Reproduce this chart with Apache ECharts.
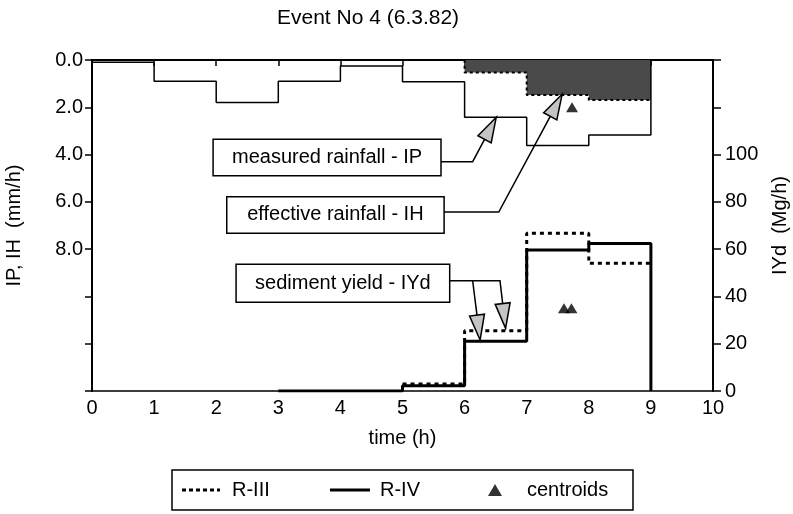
<!DOCTYPE html>
<html>
<head>
<meta charset="utf-8">
<script src="https://cdn.jsdelivr.net/npm/echarts@6/dist/echarts.min.js"></script>
<style>
html,body{margin:0;padding:0;background:#fff;}
#chart{width:793px;height:514px;}
</style>
</head>
<body>
<div id="chart"></div>
<script>
// ---- data ----
const titleText = 'Event No 4 (6.3.82)';
const xTicks = [0,1,2,3,4,5,6,7,8,9,10];
const leftTickLabels = ['0.0','2.0','4.0','6.0','8.0'];
const rightTickLabels = ['0','20','40','60','80','100'];

// measured rainfall IP (mm/h), hourly intervals starting at:
const ipStart = [0,1,2,3,4,5,6,7,8];
const ipValues = [0.1,0.9,1.8,0.9,0.25,0.92,2.42,3.62,3.17];
// effective rainfall IH (mm/h)
const ihStart = [3,4,5,6,7,8];
const ihValues = [0,0,0,0.53,1.48,1.69];
// sediment yield IYd (Mg/h)
const r4Start = [3,4,5,6,7,8];
const r4Values = [0,0,2.2,21,59.6,62.4];
const r3Start = [5,6,7,8];
const r3Values = [3,25.5,66.7,54];
// centroids
const centroidRain = [[7.73,2.0]];
const centroidSed = [[7.6,35],[7.72,35]];

// annotation anchors (data units: hours, mm/h)
const annBoxes = [
  {text:'measured rainfall - IP', x0:1.95, x1:5.62, y0:3.35, y1:4.90},
  {text:'effective rainfall - IH', x0:2.17, x1:5.67, y0:5.78, y1:7.33},
  {text:'sediment yield - IYd', x0:2.32, x1:5.76, y0:8.64, y1:10.25}
];
const annArrows = [
  {path:[[5.62,4.30],[6.13,4.30]], tip:[6.51,2.42]},
  {path:[[5.67,6.43],[6.55,6.43]], tip:[7.57,1.45]},
  {path:[[5.76,9.34],[6.57,9.34]], tip:[6.66,11.35]},
  {path:[[6.13,9.34]], tip:[6.25,11.84]}
];

function stepPoints(starts, values, drop){
  const pts = starts.map((s,i)=>[s, values[i]]);
  const last = values.length-1;
  pts.push([starts[last]+1, values[last]]);
  if (drop) pts.push([starts[last]+1, 0]);
  return pts;
}

const FONT = '"Liberation Sans", Arial, Helvetica, sans-serif';
const DOTTED_ICON = 'path://M0,0h4v3h-4zM7,0h4v3h-4zM14,0h4v3h-4zM21,0h4v3h-4zM28,0h4v3h-4zM35,0h3v3h-3z';
const SOLID_ICON = 'path://M0,0h40v3h-40z';
const chart = echarts.init(document.getElementById('chart'), null, {renderer:'canvas'});

const legendText = {fontFamily:FONT, fontSize:20, color:'#000'};
const option = {
  animation:false,
  backgroundColor:'#fff',
  title:{text:titleText, left:272, top:3, textStyle:{fontFamily:FONT, fontSize:21, fontWeight:'normal', color:'#000'}},
  grid:{left:92, right:80, top:60, bottom:123, containLabel:false, outerBoundsMode:'none',
        show:true, borderColor:'#000', borderWidth:1.5, backgroundColor:'transparent'},
  legend:[
    {data:[{name:'R-III', icon:DOTTED_ICON}], left:182, top:480, padding:0, itemWidth:38, itemHeight:3,
     textStyle:Object.assign({padding:[0,0,0,7]}, legendText)},
    {data:[{name:'R-IV', icon:SOLID_ICON}], left:330, top:480, padding:0, itemWidth:40, itemHeight:3,
     textStyle:Object.assign({padding:[0,0,0,5]}, legendText)},
    {data:[{name:'centroids', icon:'triangle'}], left:488, top:480, padding:0, itemWidth:14, itemHeight:12,
     textStyle:Object.assign({padding:[0,0,0,20]}, legendText)}
  ],
  xAxis:{
    type:'value', min:0, max:10, interval:1,
    name:'time (h)', nameLocation:'middle', nameGap:37,
    nameTextStyle:{fontFamily:FONT, fontSize:20, color:'#000'},
    axisLine:{lineStyle:{color:'#000', width:2}},
    axisTick:{length:6, lineStyle:{color:'#000', width:1.5}},
    axisLabel:{fontFamily:FONT, fontSize:20, color:'#000', margin:7,
      formatter:v=>xTicks.indexOf(v)>=0?String(v):''},
    splitLine:{show:false}
  },
  yAxis:[
    {type:'value', position:'left', inverse:true, min:0, max:14, interval:2,
     name:'IP, IH  (mm/h)', nameLocation:'middle', nameRotate:90, nameGap:68,
     nameTextStyle:{fontFamily:FONT, fontSize:20, color:'#000'},
     axisLine:{show:true, lineStyle:{color:'#000', width:2}},
     axisTick:{show:true, length:7, lineStyle:{color:'#000', width:1.5}},
     axisLabel:{fontFamily:FONT, fontSize:20, color:'#000', margin:9,
       formatter:v=>{const i=Math.round(v/2); return (v<=8 && leftTickLabels[i]) ? leftTickLabels[i] : '';}},
     splitLine:{show:false}},
    {type:'value', position:'right', min:0, max:140, interval:20,
     name:'IYd  (Mg/h)', nameLocation:'middle', nameRotate:90, nameGap:57,
     nameTextStyle:{fontFamily:FONT, fontSize:20, color:'#000'},
     axisLine:{show:true, lineStyle:{color:'#000', width:2}},
     axisTick:{show:true, length:8, lineStyle:{color:'#000', width:1.5}},
     axisLabel:{fontFamily:FONT, fontSize:20, color:'#000', margin:12,
       formatter:v=>{const i=Math.round(v/20); return (v<=100 && rightTickLabels[i]) ? rightTickLabels[i] : '';}},
     splitLine:{show:false}}
  ],
  series:[
    {name:'IH', type:'line', step:'end', yAxisIndex:0, symbol:'none',
     data:stepPoints(ihStart, ihValues, false),
     itemStyle:{color:'#000'},
     lineStyle:{color:'#000', width:2, type:[3,3]},
     areaStyle:{color:'#4a4a4a', opacity:1}, z:2},
    {name:'IP', type:'line', step:'end', yAxisIndex:0, symbol:'none',
     data:stepPoints(ipStart, ipValues, true),
     itemStyle:{color:'#000'},
     lineStyle:{color:'#000', width:1.5}, z:3},
    {name:'R-III', type:'line', step:'end', yAxisIndex:1, symbol:'none',
     data:stepPoints(r3Start, r3Values, false),
     itemStyle:{color:'#000'},
     lineStyle:{color:'#000', width:3, type:[4,4]}, z:4},
    {name:'R-IV', type:'line', step:'end', yAxisIndex:1, symbol:'none',
     data:stepPoints(r4Start, r4Values, true),
     itemStyle:{color:'#000'},
     lineStyle:{color:'#000', width:3}, z:5},
    {name:'centroids', type:'scatter', yAxisIndex:1, symbol:'triangle', symbolSize:[12,10],
     data:centroidSed, itemStyle:{color:'#000'}, z:6},
    {name:'centroidsRain', type:'scatter', yAxisIndex:0, symbol:'triangle', symbolSize:[12,10],
     data:centroidRain, itemStyle:{color:'#000'}, z:6}
  ]
};
chart.setOption(option);

// ---- annotations (positioned via the chart's own scales) ----
function px(p){ return chart.convertToPixel({xAxisIndex:0, yAxisIndex:0}, p); }
const graphics = [];
// legend frame
graphics.push({type:'rect', shape:{x:172, y:470, width:461, height:40},
  style:{fill:'none', stroke:'#000', lineWidth:1.5}, z:10});
annBoxes.forEach(b=>{
  const a = px([b.x0,b.y0]), c = px([b.x1,b.y1]);
  graphics.push({type:'rect', shape:{x:a[0], y:a[1], width:c[0]-a[0], height:c[1]-a[1]},
    style:{fill:'#fff', stroke:'#000', lineWidth:1.5}, z:10});
  graphics.push({type:'text', x:(a[0]+c[0])/2, y:(a[1]+c[1])/2,
    style:{text:b.text, fontFamily:FONT, fontSize:20, fill:'#000', align:'center', verticalAlign:'middle'}, z:11});
});
annArrows.forEach(ar=>{
  const pts = ar.path.map(px);
  const tip = px(ar.tip);
  const prev = pts[pts.length-1];
  const dx = tip[0]-prev[0], dy = tip[1]-prev[1];
  const len = Math.sqrt(dx*dx+dy*dy);
  const ux = dx/len, uy = dy/len;
  const L = 25, W = 7.5;
  const base = [tip[0]-ux*L, tip[1]-uy*L];
  graphics.push({type:'polyline', shape:{points:pts.concat([base])},
    style:{stroke:'#000', lineWidth:1.5, fill:null}, z:10});
  graphics.push({type:'polygon', shape:{points:[tip,
      [base[0]-uy*W, base[1]+ux*W],[base[0]+uy*W, base[1]-ux*W]]},
    style:{fill:'#c4c4c4', stroke:'#000', lineWidth:1.5}, z:10});
});
chart.setOption({graphic:graphics});
</script>
</body>
</html>
